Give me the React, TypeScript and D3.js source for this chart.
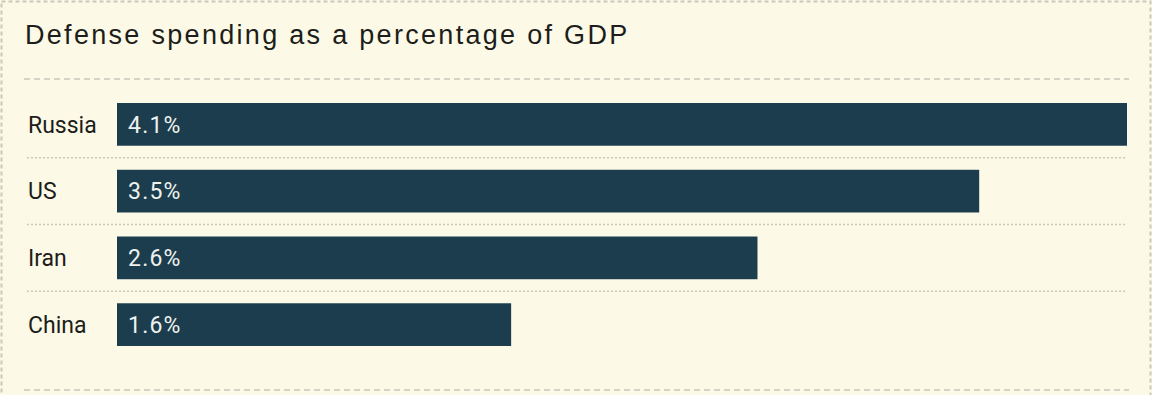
import React from "react";
import { scaleBand, scaleLinear } from "d3";

const countries = ["Russia", "US", "Iran", "China"];
const shares = [4.1, 3.5, 2.6, 1.6];
const valueLabels = ["4.1%", "3.5%", "2.6%", "1.6%"];

const width = 1152;
const height = 395;
const bg = "#fcfae6";
const barColor = "#1c3d4d";
const rules = "#c9c8bd";

export default function App() {
  const x = scaleLinear().domain([0, 4.1]).range([117, 1127]);
  const y = scaleBand<string>()
    .domain(countries)
    .range([91, 358])
    .paddingInner(0.36)
    .paddingOuter(0.18);
  const step = y.step();

  return (
    <div style={{ position: "fixed", left: 0, top: 0 }}>
      <svg width={width} height={height} style={{ display: "block" }}>
        <rect width={width} height={height} fill={bg} />
        {/* outer dashed frame */}
        <rect
          x={1.5}
          y={1.5}
          width={width - 3}
          height={height + 20}
          fill="none"
          stroke={rules}
          strokeWidth={2}
          strokeDasharray="4 3"
        />
        <text
          x={25}
          y={44}
          fontFamily="'Liberation Sans', Arial, sans-serif"
          fontSize={27}
          letterSpacing={2.3}
          fill="#1d1d1b"
        >
          Defense spending as a percentage of GDP
        </text>
        <line x1={24} x2={1129} y1={79} y2={79} stroke={rules} strokeWidth={1.5} strokeDasharray="6 4" />
        <line x1={24} x2={1129} y1={390} y2={390} stroke={rules} strokeWidth={1.5} strokeDasharray="6 4" />

        {countries.slice(1).map((c) => (
          <line
            key={`sep-${c}`}
            x1={27}
            x2={1127}
            y1={(y(c) ?? 0) - (step - y.bandwidth()) / 2}
            y2={(y(c) ?? 0) - (step - y.bandwidth()) / 2}
            stroke={rules}
            strokeWidth={1.5}
            strokeDasharray="2 2"
          />
        ))}

        {countries.map((c, i) => {
          const cy = (y(c) ?? 0) + y.bandwidth() / 2;
          return (
            <g key={c}>
              <rect
                x={x(0)}
                y={y(c)}
                width={x(shares[i]) - x(0)}
                height={y.bandwidth()}
                fill={barColor}
              />
              <text
                x={28}
                y={cy}
                dy="0.36em"
                fontFamily="Roboto, sans-serif"
                fontSize={23}
                fill="#1d1d1b"
              >
                {c}
              </text>
              <text
                x={x(0) + 11}
                y={cy}
                dy="0.36em"
                fontFamily="Roboto, sans-serif"
                fontSize={23}
                letterSpacing={1.2}
                fill="#eef2ee"
              >
                {valueLabels[i]}
              </text>
            </g>
          );
        })}
      </svg>
    </div>
  );
}
